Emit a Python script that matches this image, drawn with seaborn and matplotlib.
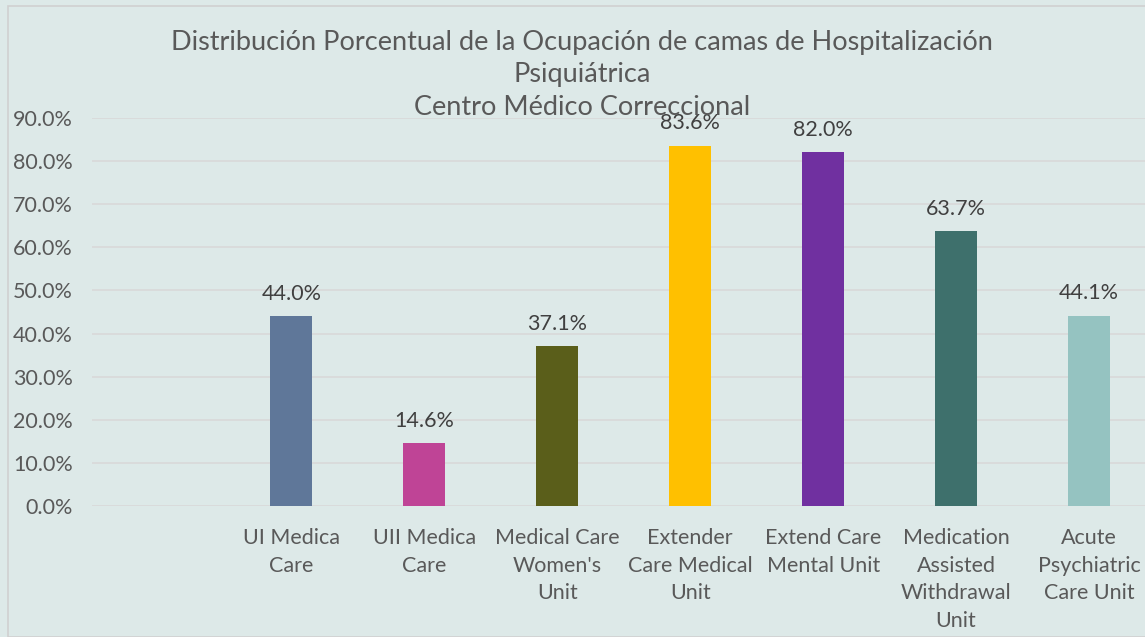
import numpy as np
import pandas as pd
import matplotlib
matplotlib.use("Agg")
import matplotlib.pyplot as plt
import seaborn as sns
from matplotlib.patches import Rectangle

categories = ["", "UI Medica\nCare", "UII Medica\nCare", "Medical Care\nWomen's\nUnit",
              "Extender\nCare Medical\nUnit", "Extend Care\nMental Unit",
              "Medication\nAssisted\nWithdrawal\nUnit", "Acute\nPsychiatric\nCare Unit"]
values = [np.nan, 44.0, 14.6, 37.1, 83.6, 82.0, 63.7, 44.1]
colors = ["#5f7799", "#5f7799", "#bf4496", "#5a5e1a", "#ffc000", "#7030a0", "#3e706c", "#95c3c1"]
yticks = [0, 10, 20, 30, 40, 50, 60, 70, 80, 90]
title = "Distribución Porcentual de la Ocupación de camas de Hospitalización\nPsiquiátrica\nCentro Médico Correccional"

bg = "#dde9e8"
sns.set_theme(style="white")
plt.rcParams['font.family'] = ['Lato', 'DejaVu Sans']

df = pd.DataFrame({"cat": categories, "val": values})

fig = plt.figure(figsize=(11.45, 6.37), dpi=100)
fig.patch.set_facecolor(bg)
fig.patches.append(Rectangle((8/1145, 0), 1.2, 1 - 6/637, transform=fig.transFigure,
                             fill=False, edgecolor="#d0d0d0", linewidth=1.2, zorder=0))
ax = fig.add_axes([92/1145, 1 - 506/637, (1155.5 - 92)/1145, (506 - 118)/637])
ax.set_facecolor(bg)

sns.barplot(data=df, x="cat", y="val", order=categories, hue="cat", hue_order=categories,
            palette=colors, legend=False, width=0.316, ax=ax, saturation=1, linewidth=0)

ax.set_ylim(0, 90)
ax.set_yticks(yticks)
ax.set_yticklabels([f"{t:.1f}%" for t in yticks], fontsize=15.5, color="#595959")
ax.set_xticks(range(len(categories)))
ax.set_xticklabels(categories, fontsize=15.5, color="#595959", linespacing=1.47, va="top")
ax.tick_params(axis="x", length=0, pad=16)
ax.tick_params(axis="y", length=0, pad=14)
ax.set_xlabel("")
ax.set_ylabel("")
ax.grid(axis="y", color="#d9d9d9", linewidth=1.2)
ax.set_axisbelow(True)
for s in ax.spines.values():
    s.set_visible(False)

for i, v in enumerate(values):
    if not np.isnan(v):
        ax.annotate(f"{v:.1f}%", (i, v), xytext=(0, 9), textcoords="offset points",
                    ha="center", va="bottom", fontsize=15.5, color="#404040")

fig.text(582/1145, 1 - 30/637, title, ha="center", va="top", fontsize=19.5,
         color="#595959", linespacing=1.37)

fig.savefig("out.png", dpi=100, facecolor=bg)
